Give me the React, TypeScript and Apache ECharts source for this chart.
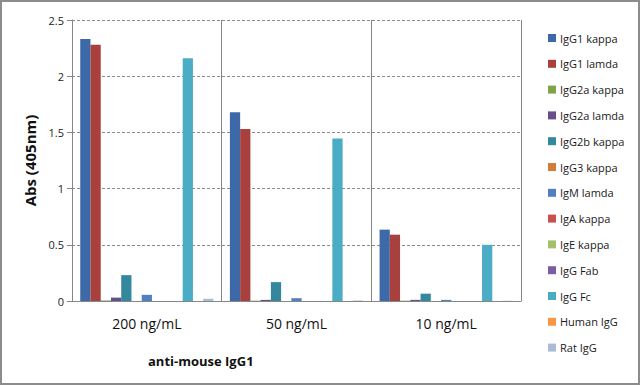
import React, { useEffect, useRef } from "react";
import * as echarts from "echarts";

const categories = ["200 ng/mL", "50 ng/mL", "10 ng/mL"];
const seriesNames = [
  "IgG1 kappa", "IgG1 lamda", "IgG2a kappa", "IgG2a lamda", "IgG2b kappa",
  "IgG3 kappa", "IgM lamda", "IgA kappa", "IgE kappa", "IgG Fab",
  "IgG Fc", "Human IgG", "Rat IgG",
];
const igg1Kappa = [2.33, 1.68, 0.635];
const igg1Lamda = [2.28, 1.53, 0.59];
const igg2aKappa = [0.005, 0.003, 0.003];
const igg2aLamda = [0.03, 0.01, 0.01];
const igg2bKappa = [0.23, 0.168, 0.065];
const igg3Kappa = [0, 0, 0];
const igmLamda = [0.055, 0.025, 0.01];
const igaKappa = [0, 0, 0];
const igeKappa = [0, 0, 0];
const iggFab = [0, 0, 0];
const iggFc = [2.16, 1.445, 0.5];
const humanIgG = [0, 0, 0];
const ratIgG = [0.02, 0.005, 0.002];
const seriesValues = [
  igg1Kappa, igg1Lamda, igg2aKappa, igg2aLamda, igg2bKappa, igg3Kappa,
  igmLamda, igaKappa, igeKappa, iggFab, iggFc, humanIgG, ratIgG,
];
const colors = [
  "#3E69A8", "#A8403D", "#80A34A", "#654E8A", "#34889E", "#D27D3A",
  "#4F80C4", "#C9504D", "#A3C06A", "#7A5FA6", "#4BACC6", "#F79646", "#A9BCD8",
];
const yTicks = { min: 0, max: 2.5, interval: 0.5 };
const xAxisTitle = "anti-mouse IgG1";
const yAxisTitle = "Abs (405nm)";

const FONT = "'Open Sans', 'Noto Sans', sans-serif";

export default function App() {
  const ref = useRef<HTMLDivElement>(null);
  useEffect(() => {
    document.body.style.margin = "0";
    if (!ref.current) return;
    const chart = echarts.init(ref.current, null, { renderer: "svg" });
    chart.setOption({
      animation: false,
      backgroundColor: "#ffffff",
      textStyle: { fontFamily: FONT },
      color: colors,
      grid: { left: 72, right: 119, top: 20, bottom: 84 },
      legend: {
        orient: "vertical",
        left: 543,
        top: 26,
        itemWidth: 8,
        itemHeight: 8,
        itemGap: 11.8,
        icon: "rect",
        textStyle: { fontFamily: FONT, fontSize: 11, color: "#1a1a1a", lineHeight: 14, padding: [0, 0, 0, -1] },
        data: seriesNames,
      },
      xAxis: {
        type: "category",
        data: categories,
        axisLine: { lineStyle: { color: "#868686", width: 1 } },
        axisTick: { show: false },
        splitLine: { show: true, lineStyle: { color: "#868686", width: 1 } },
        axisLabel: { fontFamily: FONT, fontSize: 14, color: "#111", margin: 15 },
      },
      yAxis: {
        type: "value",
        min: yTicks.min,
        max: yTicks.max,
        interval: yTicks.interval,
        name: yAxisTitle,
        nameLocation: "middle",
        nameGap: 30,
        nameRotate: 90,
        nameTextStyle: { fontFamily: FONT, fontSize: 15, fontWeight: "bold", color: "#111" },
        axisLine: { show: true, lineStyle: { color: "#868686" } },
        axisTick: { show: true, inside: false, length: 5, lineStyle: { color: "#868686" } },
        axisLabel: { fontFamily: FONT, fontSize: 11, color: "#222", margin: 8 },
        splitLine: { show: true, lineStyle: { color: "#8a8a8a", type: [3, 2], width: 1 } },
      },
      series: seriesNames.map((name, i) => ({
        name,
        type: "bar",
        data: seriesValues[i],
        barGap: "0%",
        barCategoryGap: "11%",
        itemStyle: { color: colors[i] },
      })),
      graphic: [
        {
          type: "text",
          left: 148,
          top: 354,
          style: { text: xAxisTitle, fontFamily: FONT, fontSize: 13, fontWeight: "bold", fill: "#111" },
        },
        {
          type: "rect",
          shape: { x: 1, y: 1, width: 638, height: 383 },
          style: { fill: "none", stroke: "#8c8c8c", lineWidth: 2 },
          silent: true,
        },
      ],
    });
    return () => chart.dispose();
  }, []);
  return <div ref={ref} style={{ width: 640, height: 385 }} />;
}
